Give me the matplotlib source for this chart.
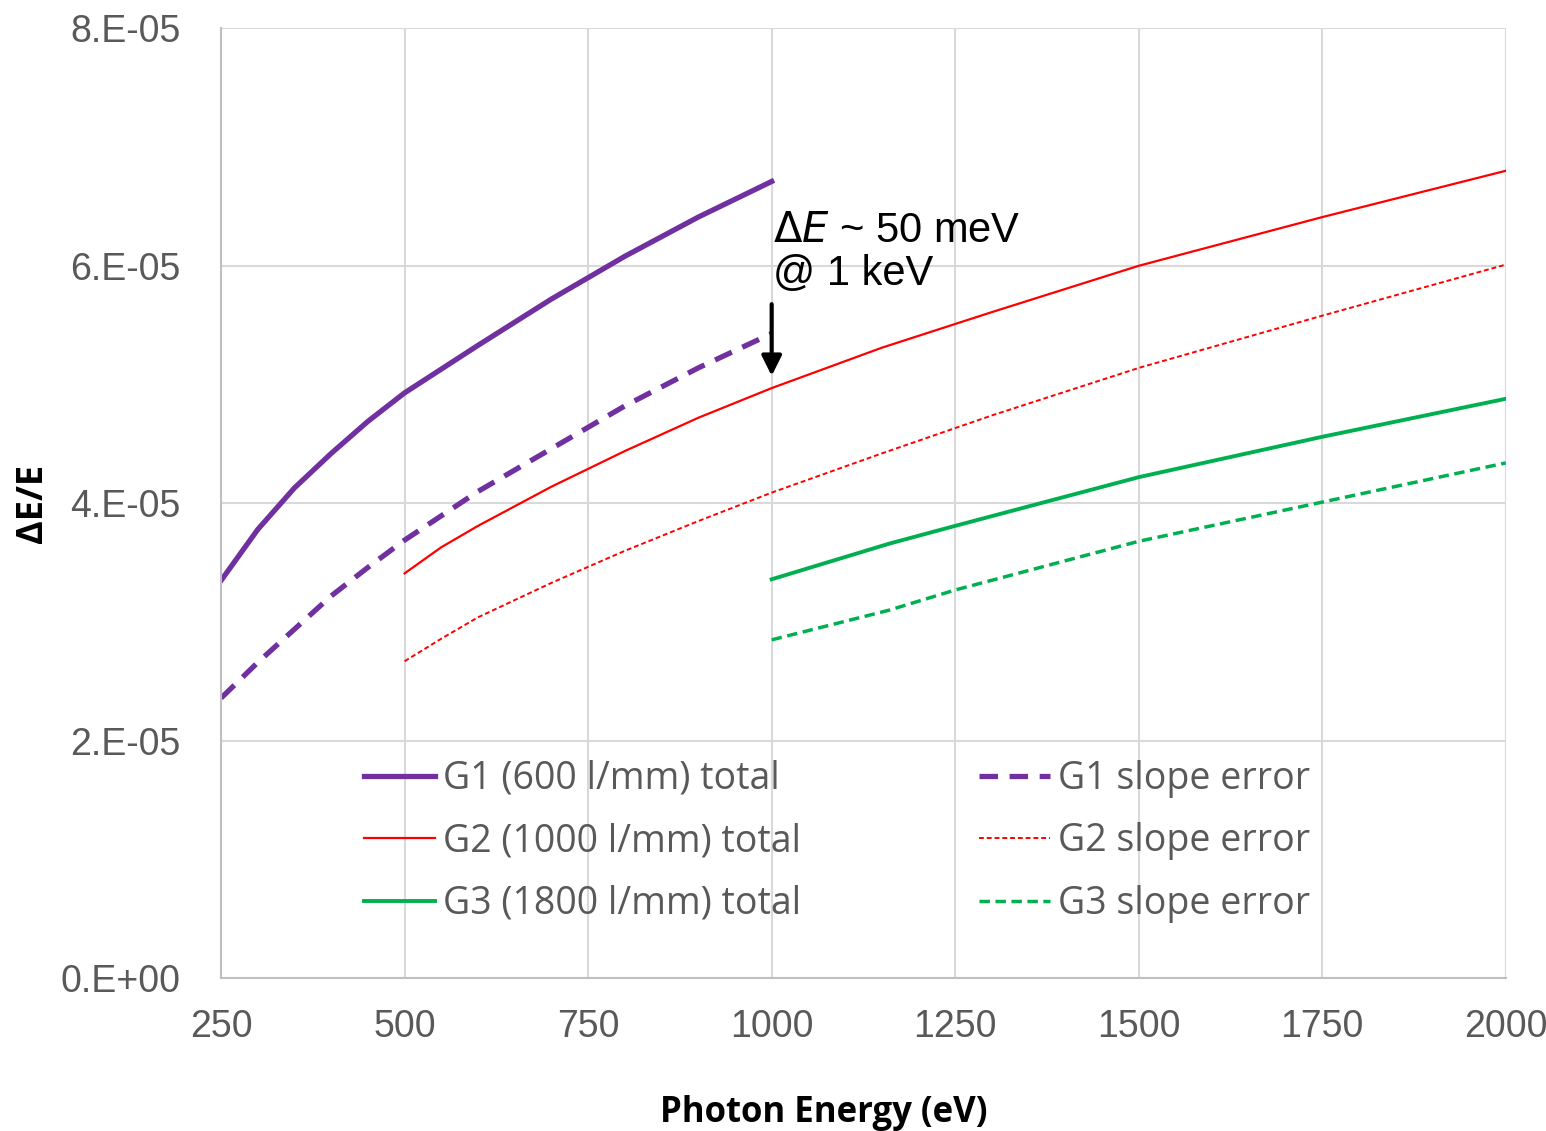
import matplotlib.pyplot as plt
import numpy as np

# data (values in units of 1e-5)
g1_energy = [250, 300, 350, 400, 450, 500, 600, 700, 800, 900, 1000]
g1_total = [3.35, 3.78, 4.13, 4.42, 4.69, 4.93, 5.33, 5.72, 6.08, 6.41, 6.71]
g1_slope = [2.36, 2.66, 2.94, 3.22, 3.46, 3.69, 4.10, 4.46, 4.82, 5.14, 5.43]

g2_energy = [500, 550, 600, 700, 800, 900, 1000, 1150, 1300, 1500, 1750, 2000]
g2_total = [3.41, 3.63, 3.81, 4.14, 4.44, 4.72, 4.97, 5.31, 5.61, 6.00, 6.41, 6.80]
g2_slope = [2.67, 2.86, 3.04, 3.33, 3.60, 3.85, 4.09, 4.42, 4.74, 5.14, 5.58, 6.01]

g3_energy = [1000, 1160, 1250, 1500, 1750, 2000]
g3_total = [3.36, 3.66, 3.81, 4.22, 4.56, 4.88]
g3_slope = [2.85, 3.10, 3.27, 3.68, 4.01, 4.34]

x_ticks = [250, 500, 750, 1000, 1250, 1500, 1750, 2000]
y_ticks = [0, 2e-5, 4e-5, 6e-5, 8e-5]
y_ticklabels = ['0.E+00', '2.E-05', '4.E-05', '6.E-05', '8.E-05']

scale = 1e-5
purple = '#7030A0'
red = '#FF0000'
green = '#00B050'

fig = plt.figure(figsize=(15.46, 11.31), dpi=100)
ax = fig.add_axes([0.143, 0.135, 0.831, 0.84])

ax.plot(g1_energy, np.array(g1_total) * scale, color=purple, lw=3.8,
        label='G1 (600 l/mm) total')
ax.plot(g2_energy, np.array(g2_total) * scale, color=red, lw=1.6,
        label='G2 (1000 l/mm) total')
ax.plot(g3_energy, np.array(g3_total) * scale, color=green, lw=2.8,
        label='G3 (1800 l/mm) total')
ax.plot(g1_energy, np.array(g1_slope) * scale, color=purple, lw=3.8,
        dashes=(3.5, 2.2), label='G1 slope error')
ax.plot(g2_energy, np.array(g2_slope) * scale, color=red, lw=1.4,
        dashes=(2.5, 1.5), label='G2 slope error')
ax.plot(g3_energy, np.array(g3_slope) * scale, color=green, lw=2.5,
        dashes=(3.0, 1.6), label='G3 slope error')

ax.set_xlim(250, 2000)
ax.set_ylim(0, 8e-5)
ax.set_xticks(x_ticks)
ax.set_yticks(y_ticks)
ax.set_yticklabels(y_ticklabels)
ax.tick_params(length=0, labelsize=27, labelcolor='#595959')
ax.tick_params(axis='x', pad=22)
ax.tick_params(axis='y', pad=29)
for lab in ax.get_xticklabels() + ax.get_yticklabels():
    lab.set_family('Liberation Sans')

ax.grid(True, color='#d9d9d9', lw=1.5)
ax.set_axisbelow(True)
for s in ['top', 'right']:
    ax.spines[s].set_visible(False)
for s in ['left', 'bottom']:
    ax.spines[s].set_color('#bfbfbf')
    ax.spines[s].set_linewidth(1.5)

ax.set_xlabel('Photon Energy (eV)', fontsize=25, fontweight='bold',
              family='Open Sans')
ax.xaxis.set_label_coords(0.469, -0.123)
ax.set_ylabel('ΔE/E', fontsize=26, fontweight='bold', family='Open Sans')
ax.yaxis.set_label_coords(-0.132, 0.5)

# annotation
ax.text(1002, 5.76e-5, r'$\mathit{\Delta E}$ ~ 50 meV' + '\n@ 1 keV',
        fontsize=30, family='Liberation Sans', va='bottom', ha='left',
        linespacing=1.1)
ax.annotate('', xy=(1000, 5.05e-5), xytext=(1000, 5.7e-5),
            arrowprops=dict(arrowstyle='-|>', color='black', lw=3,
                            mutation_scale=30))

leg = ax.legend(ncol=2, loc='lower left', bbox_to_anchor=(0.085, 0.023),
                frameon=False, handlelength=1.9,
                handletextpad=0.2, columnspacing=4.75, labelspacing=0.65,
                prop={'family': 'Open Sans', 'size': 27})
for t in leg.get_texts():
    t.set_color('#595959')

plt.savefig('out.png', dpi=100)
